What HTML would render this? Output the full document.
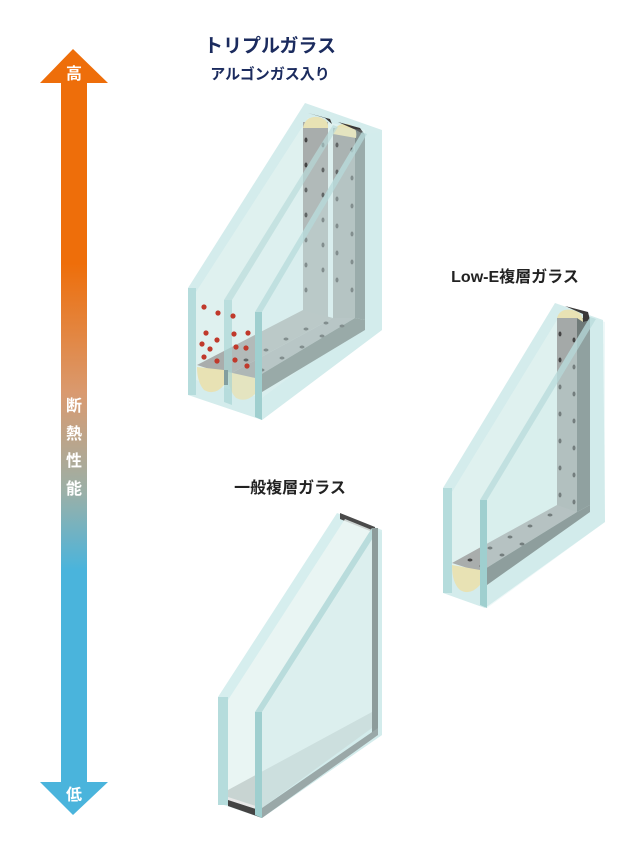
<!DOCTYPE html>
<html><head><meta charset="utf-8"><style>
html,body{margin:0;padding:0;background:#fff;}
svg{display:block}
text{font-family:"Liberation Sans","Noto Sans CJK JP",sans-serif;}
</style></head><body>
<svg width="640" height="860" viewBox="0 0 640 860" xmlns="http://www.w3.org/2000/svg">
<defs>
<linearGradient id="ag" gradientUnits="userSpaceOnUse" x1="0" y1="49" x2="0" y2="815">
<stop offset="0" stop-color="#ee6e0a"/>
<stop offset="0.28" stop-color="#ee6e0a"/>
<stop offset="0.45" stop-color="#d99a70"/>
<stop offset="0.58" stop-color="#9ab0a8"/>
<stop offset="0.68" stop-color="#4ab4dc"/>
<stop offset="1" stop-color="#4ab4dc"/>
</linearGradient>
</defs>
<!-- arrow -->
<polygon points="73,49 108,83 87,83 87,782 108,782 73,815 40,782 61,782 61,83 40,83" fill="url(#ag)"/>
<g fill="#fff" font-size="16" text-anchor="middle" font-weight="bold">
<text x="74" y="79">高</text>
<text x="74" y="800">低</text>
<text x="74" y="411">断</text>
<text x="74" y="439">熱</text>
<text x="74" y="466">性</text>
<text x="74" y="494">能</text>
</g>
<!-- titles -->
<text x="270" y="52" font-size="19" font-weight="bold" fill="#1b2b5e" text-anchor="middle">トリプルガラス</text>
<text x="270" y="79" font-size="15" font-weight="bold" fill="#1b2b5e" text-anchor="middle">アルゴンガス入り</text>
<text x="515" y="282" font-size="16" font-weight="bold" fill="#222" text-anchor="middle">Low-E複層ガラス</text>
<text x="290" y="493" font-size="16" font-weight="bold" fill="#222" text-anchor="middle">一般複層ガラス</text>

<!-- ===== General double glass ===== -->
<g>
<polygon points="218,697 337,513 382,530 382,735 262,818 218,803" fill="#d6eeee"/>
<polygon points="340,513 375,527 375,533 340,519" fill="#4a4a4a"/>
<polygon points="228,700 345,519 372,530 372,720 262,800 228,790" fill="#eef6f4" opacity="0.8"/>
<polygon points="228,790 372,712 372,728 262,808 228,800" fill="#c8d4d2"/>
<polygon points="228,797 262,808 262,818 228,806" fill="#e8e8e8"/>
<polygon points="228,800 262,811 262,818 228,806" fill="#444"/>
<rect x="218" y="697" width="10" height="108" fill="#b5dcdc"/>
<polygon points="255,712 372,528 378,530 262,712" fill="#b9dcdc"/>
<polygon points="255,712 262,712 262,818 255,815" fill="#9fcfcf"/>
<polygon points="262,712 378,530 382,533 382,735 262,818" fill="#cfeaea" opacity="0.5"/>
<rect x="372" y="528" width="6" height="205" fill="#8d9c9b"/>
<polygon points="262,808 378,728 378,735 262,818" fill="#9aa8a8"/>
</g>

<!-- ===== Low-E ===== -->
<g>
<polygon points="443,488 555,303 603,320 605,522 485,608 443,593" fill="#d4ecec"/>
<polygon points="452,492 560,315 590,320 590,505 485,578 452,570" fill="#e4f3f1" opacity="0.7"/>
<polygon points="557,318 577,318 577,512 557,520" fill="#a4a9a8"/>
<polygon points="577,318 590,318 590,505 577,512" fill="#6f7a78"/>
<polygon points="452,563 557,505 577,512 480,572" fill="#a9adac"/>
<polygon points="480,572 577,512 590,505 590,512 487,585 480,585" fill="#6c7673"/>
<polygon points="480,572 487,572 487,585 480,585" fill="#2a2020"/>
<path d="M452,565 L480,570 L480,585 Q470,596 460,590 Q452,583 452,565Z" fill="#e8e2b4"/>
<path d="M557,318 Q560,308 572,310 Q583,312 583,322 L577,318Z" fill="#e8e2b4"/>
<polygon points="565,306 588,312 590,320 583,322 583,314" fill="#3a3838"/>
<g fill="#444">
<ellipse cx="560" cy="334" rx="1.5" ry="2.5"/><ellipse cx="574" cy="340" rx="1.5" ry="2.5"/>
<ellipse cx="560" cy="360" rx="1.5" ry="2.5"/><ellipse cx="574" cy="367" rx="1.5" ry="2.5"/>
<ellipse cx="560" cy="387" rx="1.5" ry="2.5"/><ellipse cx="574" cy="394" rx="1.5" ry="2.5"/>
<ellipse cx="560" cy="414" rx="1.5" ry="2.5"/><ellipse cx="574" cy="421" rx="1.5" ry="2.5"/>
<ellipse cx="560" cy="441" rx="1.5" ry="2.5"/><ellipse cx="574" cy="448" rx="1.5" ry="2.5"/>
<ellipse cx="560" cy="468" rx="1.5" ry="2.5"/><ellipse cx="574" cy="475" rx="1.5" ry="2.5"/>
<ellipse cx="560" cy="495" rx="1.5" ry="2.5"/><ellipse cx="574" cy="502" rx="1.5" ry="2.5"/>
<ellipse cx="470" cy="560" rx="2.5" ry="1.5"/><ellipse cx="490" cy="548" rx="2.5" ry="1.5"/>
<ellipse cx="510" cy="537" rx="2.5" ry="1.5"/><ellipse cx="530" cy="526" rx="2.5" ry="1.5"/>
<ellipse cx="550" cy="515" rx="2.5" ry="1.5"/><ellipse cx="482" cy="566" rx="2.5" ry="1.5"/>
<ellipse cx="502" cy="555" rx="2.5" ry="1.5"/><ellipse cx="522" cy="544" rx="2.5" ry="1.5"/>
</g>
<rect x="443" y="488" width="9" height="105" fill="#b5dcdc"/>
<polygon points="480,500 590,317 596,319 487,500" fill="#b9dcdc" opacity="0.8"/>
<polygon points="480,500 487,500 487,608 480,605" fill="#9fcfcf"/>
<polygon points="487,500 596,319 605,322 605,522 487,608" fill="#cfeaea" opacity="0.35"/>
</g>

<!-- ===== Triple ===== -->
<g>
<polygon points="188,288 305,103 382,130 382,330 262,420 188,395" fill="#d4ecec"/>
<polygon points="196,292 308,118 365,130 365,320 262,398 196,380" fill="#e4f3f1" opacity="0.7"/>
<polygon points="303,122 328,122 328,320 303,325" fill="#a8adac"/>
<polygon points="333,128 355,128 355,318 333,322" fill="#9fa4a3"/>
<polygon points="355,128 365,135 365,320 355,318" fill="#6f7a78"/>
<polygon points="197,365 303,310 333,318 228,375" fill="#a9adac"/>
<polygon points="228,375 333,318 355,318 255,378" fill="#a4a9a8"/>
<polygon points="255,378 355,318 365,320 365,330 262,392 255,392" fill="#6c7673"/>
<polygon points="255,378 262,378 262,392 255,392" fill="#2a2020"/>
<polygon points="224,370 228,370 228,385 224,385" fill="#2a2020"/>
<path d="M197,367 L224,370 L224,385 Q215,396 204,390 Q197,382 197,367Z" fill="#e8e2b4"/>
<path d="M228,372 L255,378 L255,394 Q246,403 236,398 Q228,390 228,372Z" fill="#e8e2b4"/>
<path d="M303,128 Q305,116 318,117 Q329,119 328,128Z" fill="#e8e2b4"/>
<path d="M333,134 Q335,123 348,124 Q358,127 356,138Z" fill="#e8e2b4"/>
<polygon points="308,113 330,119 332,124 325,118" fill="#3a3838"/>
<polygon points="338,122 360,128 365,135 356,130" fill="#3a3838"/>
<g fill="#444">
<ellipse cx="306" cy="140" rx="1.5" ry="2.5"/><ellipse cx="306" cy="165" rx="1.5" ry="2.5"/>
<ellipse cx="306" cy="190" rx="1.5" ry="2.5"/><ellipse cx="306" cy="215" rx="1.5" ry="2.5"/>
<ellipse cx="306" cy="240" rx="1.5" ry="2.5"/><ellipse cx="306" cy="265" rx="1.5" ry="2.5"/>
<ellipse cx="306" cy="290" rx="1.5" ry="2.5"/>
<ellipse cx="323" cy="145" rx="1.5" ry="2.5"/><ellipse cx="323" cy="170" rx="1.5" ry="2.5"/>
<ellipse cx="323" cy="195" rx="1.5" ry="2.5"/><ellipse cx="323" cy="220" rx="1.5" ry="2.5"/>
<ellipse cx="323" cy="245" rx="1.5" ry="2.5"/><ellipse cx="323" cy="270" rx="1.5" ry="2.5"/>
<ellipse cx="337" cy="145" rx="1.5" ry="2.5"/><ellipse cx="337" cy="172" rx="1.5" ry="2.5"/>
<ellipse cx="337" cy="199" rx="1.5" ry="2.5"/><ellipse cx="337" cy="226" rx="1.5" ry="2.5"/>
<ellipse cx="337" cy="253" rx="1.5" ry="2.5"/><ellipse cx="337" cy="280" rx="1.5" ry="2.5"/>
<ellipse cx="352" cy="150" rx="1.5" ry="2.5"/><ellipse cx="352" cy="178" rx="1.5" ry="2.5"/>
<ellipse cx="352" cy="206" rx="1.5" ry="2.5"/><ellipse cx="352" cy="234" rx="1.5" ry="2.5"/>
<ellipse cx="352" cy="262" rx="1.5" ry="2.5"/><ellipse cx="352" cy="290" rx="1.5" ry="2.5"/>
<ellipse cx="246" cy="360" rx="2.5" ry="1.5"/><ellipse cx="266" cy="350" rx="2.5" ry="1.5"/>
<ellipse cx="286" cy="339" rx="2.5" ry="1.5"/><ellipse cx="306" cy="329" rx="2.5" ry="1.5"/>
<ellipse cx="326" cy="323" rx="2.5" ry="1.5"/>
<ellipse cx="262" cy="370" rx="2.5" ry="1.5"/><ellipse cx="282" cy="358" rx="2.5" ry="1.5"/>
<ellipse cx="302" cy="347" rx="2.5" ry="1.5"/><ellipse cx="322" cy="336" rx="2.5" ry="1.5"/>
<ellipse cx="342" cy="326" rx="2.5" ry="1.5"/>
</g>
<rect x="188" y="288" width="8" height="107" fill="#b5dcdc"/>
<polygon points="224,300 333,125 338,127 232,300" fill="#b9dcdc" opacity="0.7"/>
<polygon points="224,300 232,300 232,405 224,402" fill="#a9d5d5" opacity="0.7"/>
<polygon points="232,300 338,127 382,132 382,330 262,420 232,405" fill="#d8eeee" opacity="0.2"/>
<polygon points="255,312 362,132 367,134 262,312" fill="#b9dcdc" opacity="0.8"/>
<polygon points="255,312 262,312 262,420 255,417" fill="#9fcfcf"/>
<polygon points="262,312 367,134 382,132 382,330 262,420" fill="#cfeaea" opacity="0.3"/>
<g fill="#c0392b">
<circle cx="204" cy="307" r="2.6"/><circle cx="218" cy="313" r="2.6"/><circle cx="233" cy="316" r="2.6"/>
<circle cx="206" cy="333" r="2.6"/><circle cx="217" cy="340" r="2.6"/><circle cx="234" cy="334" r="2.6"/>
<circle cx="248" cy="333" r="2.6"/><circle cx="202" cy="344" r="2.6"/><circle cx="210" cy="349" r="2.6"/>
<circle cx="236" cy="347" r="2.6"/><circle cx="246" cy="348" r="2.6"/><circle cx="204" cy="357" r="2.6"/>
<circle cx="217" cy="361" r="2.6"/><circle cx="235" cy="360" r="2.6"/><circle cx="247" cy="366" r="2.6"/>
</g>
</g>
</svg>
</body></html>
